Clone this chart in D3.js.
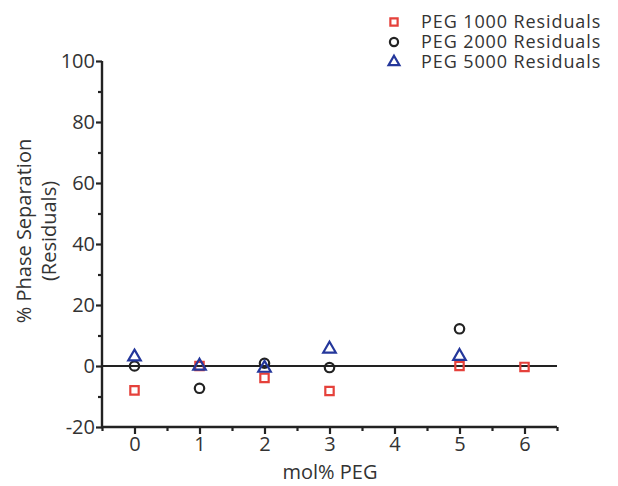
<!DOCTYPE html>
<html>
<head>
<meta charset="utf-8">
<script src="https://cdn.jsdelivr.net/npm/d3@7"></script>
<style>
  body { margin: 0; background: #fff; }
  svg text { font-family: "Open Sans", sans-serif; fill: #333; }
</style>
</head>
<body>
<svg id="chart" width="618" height="486"></svg>
<script>
    var xTicks = [0, 1, 2, 3, 4, 5, 6];
    var yTicks = [-20, 0, 20, 40, 60, 80, 100];

    var peg1000 = [[0, -8], [1, 0], [2, -3.9], [3, -8.2], [5, 0], [6, -0.3]];
    var peg2000 = [[0, 0], [1, -7.3], [2, 0.9], [3, -0.5], [5, 12.2]];
    var peg5000 = [[0, 3], [1, 0], [2, -0.7], [3, 5.6], [5, 3.2]];

    var seriesNames = ["PEG 1000 Residuals", "PEG 2000 Residuals", "PEG 5000 Residuals"];
    var seriesColors = ["#e5413b", "#222222", "#24379b"];

    var svg = d3.select("#chart");
    var mLeft = 102, mRight = 557, mTop = 61, mBottom = 427;

    var x = d3.scaleLinear().domain([-0.5, 6.5]).range([mLeft, mRight]);
    var y = d3.scaleLinear().domain([-20, 100]).range([mBottom, mTop]);

    // zero line
    svg.append("line")
      .attr("x1", mLeft).attr("x2", mRight)
      .attr("y1", y(0)).attr("y2", y(0))
      .attr("stroke", "#222").attr("stroke-width", 2);

    // minor ticks
    var xAxisMinor = d3.axisBottom(x).tickValues(d3.range(-0.5, 6.6, 1)).tickSize(4).tickFormat("");
    var yAxisMinor = d3.axisLeft(y).tickValues(d3.range(-10, 100, 20)).tickSize(4).tickFormat("");

    var plain = function(d) { return String(d); };
    var xAxis = d3.axisBottom(x).tickValues(xTicks).tickSize(7).tickPadding(3).tickFormat(plain);
    var yAxis = d3.axisLeft(y).tickValues(yTicks).tickSize(6).tickPadding(1).tickFormat(plain);

    function styleAxis(g) {
      g.select(".domain").remove();
      g.selectAll(".tick line").attr("stroke", "#222").attr("stroke-width", 2.2);
      g.selectAll(".tick text").style("font-size", "20px").attr("fill", "#333");
      g.attr("font-family", null);
    }

    svg.append("g").attr("transform", "translate(0," + mBottom + ")").call(xAxisMinor).call(styleAxis);
    svg.append("g").attr("transform", "translate(" + mLeft + ",0)").call(yAxisMinor).call(styleAxis);
    svg.append("g").attr("transform", "translate(0," + mBottom + ")").call(xAxis).call(styleAxis);
    svg.append("g").attr("transform", "translate(" + mLeft + ",0)").call(yAxis).call(styleAxis);

    // axis lines
    svg.append("path")
      .attr("d", "M" + mLeft + "," + mTop + "V" + mBottom + "H" + mRight)
      .attr("fill", "none").attr("stroke", "#222").attr("stroke-width", 2.4);

    // markers
    var symbols = [d3.symbolSquare, d3.symbolCircle, d3.symbolTriangle];
    var sizes = [70, 70, 68];
    [peg1000, peg2000, peg5000].forEach(function(data, i) {
      svg.append("g").selectAll("path")
        .data(data)
        .enter().append("path")
        .attr("d", d3.symbol().type(symbols[i]).size(sizes[i]))
        .attr("transform", function(d) { return "translate(" + x(d[0]) + "," + y(d[1]) + ")"; })
        .attr("fill", "none")
        .attr("stroke", seriesColors[i])
        .attr("stroke-width", 2.2);
    });

    // legend
    var legend = svg.append("g");
    seriesNames.forEach(function(name, i) {
      var cy = 22 + i * 20;
      legend.append("path")
        .attr("d", d3.symbol().type(symbols[i]).size(sizes[i] * 0.75))
        .attr("transform", "translate(394," + cy + ")")
        .attr("fill", "none").attr("stroke", seriesColors[i]).attr("stroke-width", 2.2);
      legend.append("text")
        .attr("x", 421).attr("y", cy + 6)
        .style("font-size", "18px")
        .style("letter-spacing", "0.9px")
        .text(name);
    });

    // axis titles
    svg.append("text")
      .attr("x", 330).attr("y", 479)
      .attr("text-anchor", "middle")
      .style("font-size", "20px")
      .text("mol% PEG");

    var yt = svg.append("text")
      .attr("transform", "translate(31,231) rotate(-90)")
      .attr("text-anchor", "middle")
      .style("font-size", "20px");
    yt.append("tspan").attr("x", 0).attr("dy", 0).text("% Phase Separation");
    yt.append("tspan").attr("x", 0).attr("dy", 25).text("(Residuals)");
</script>
</body>
</html>
